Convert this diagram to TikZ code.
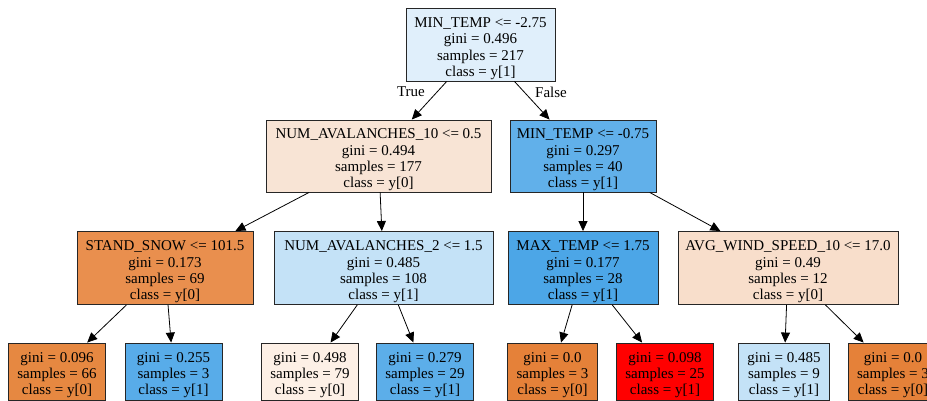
\documentclass[tikz,border=0pt]{standalone}
\usepackage{fontspec}
\setmainfont{Liberation Serif}
\usetikzlibrary{arrows.meta}

\definecolor{rootc}{RGB}{224,239,251}
\definecolor{nbc}{RGB}{248,228,213}
\definecolor{ncc}{RGB}{97,176,234}
\definecolor{ndc}{RGB}{233,143,78}
\definecolor{nec}{RGB}{196,226,247}
\definecolor{nfc}{RGB}{76,166,231}
\definecolor{ngc}{RGB}{248,222,203}
\definecolor{lhc}{RGB}{230,136,65}
\definecolor{lic}{RGB}{88,172,233}
\definecolor{ljc}{RGB}{253,240,230}
\definecolor{lkc}{RGB}{92,174,233}
\definecolor{lzc}{RGB}{229,129,57}
\definecolor{lmc}{RGB}{255,0,0}

\begin{document}
\begin{tikzpicture}[x=1pt,y=-1pt,
	box/.style={draw=black!85, line width=0.9pt, align=center, inner sep=0pt, text height=67pt, font=\fontsize{15}{16.3}\selectfont},
	leaf/.style={box, text height=50pt, minimum width=97pt, minimum height=57pt},
	edge/.style={-{Triangle[length=10pt,width=9pt]}, line width=0.8pt}]
	\clip (0,0) rectangle (927,401);

	\node[box, fill=rootc, minimum width=149pt, minimum height=73pt] at (480.5, 44.5) (a) {MIN\_TEMP <= -2.75\\gini = 0.496\\samples = 217\\class = y[1]};

	\node[box, fill=nbc, minimum width=225pt, minimum height=72pt] at (378.5, 156) (b) {NUM\_AVALANCHES\_10 <= 0.5\\gini = 0.494\\samples = 177\\class = y[0]};
	\node[box, fill=ncc, minimum width=146pt, minimum height=72pt] at (583, 156) (c) {MIN\_TEMP <= -0.75\\gini = 0.297\\samples = 40\\class = y[1]};

	\node[box, fill=ndc, minimum width=176pt, minimum height=73pt] at (165, 268) (d) {STAND\_SNOW <= 101.5\\gini = 0.173\\samples = 69\\class = y[0]};
	\node[box, fill=nec, minimum width=219pt, minimum height=73pt] at (383.5, 268) (e) {NUM\_AVALANCHES\_2 <= 1.5\\gini = 0.485\\samples = 108\\class = y[1]};
	\node[box, fill=nfc, minimum width=150pt, minimum height=73pt] at (583, 268) (f) {MAX\_TEMP <= 1.75\\gini = 0.177\\samples = 28\\class = y[1]};
	\node[box, fill=ngc, minimum width=220pt, minimum height=73pt] at (788, 268) (g) {AVG\_WIND\_SPEED\_10 <= 17.0\\gini = 0.49\\samples = 12\\class = y[0]};

	\node[leaf, fill=lhc] at (57, 371.5) (h) {gini = 0.096\\samples = 66\\class = y[0]};
	\node[leaf, fill=lic] at (173.5, 371.5) (i) {gini = 0.255\\samples = 3\\class = y[1]};
	\node[leaf, fill=ljc] at (310, 371.5) (j) {gini = 0.498\\samples = 79\\class = y[0]};
	\node[leaf, fill=lkc] at (425, 371.5) (k) {gini = 0.279\\samples = 29\\class = y[1]};
	\node[leaf, fill=lzc, minimum width=90pt] at (552.5, 371.5) (l) {gini = 0.0\\samples = 3\\class = y[0]};
	\node[leaf, fill=lmc] at (665, 371.5) (m) {gini = 0.098\\samples = 25\\class = y[1]};
	\node[leaf, fill=nec, minimum width=91pt] at (784, 371.5) (n) {gini = 0.485\\samples = 9\\class = y[1]};
	\node[leaf, fill=lzc, minimum width=90pt] at (893, 371.5) (o) {gini = 0.0\\samples = 3\\class = y[0]};

	\draw[edge] (a) -- (b);
	\draw[edge] (a) -- (c);
	\draw[edge] (b) -- (d);
	\draw[edge] (b) -- (e);
	\draw[edge] (c) -- (f);
	\draw[edge] (c) -- (g);
	\draw[edge] (d) -- (h);
	\draw[edge] (d) -- (i);
	\draw[edge] (e) -- (j);
	\draw[edge] (e) -- (k);
	\draw[edge] (f) -- (l);
	\draw[edge] (f) -- (m);
	\draw[edge] (g) -- (n);
	\draw[edge] (g) -- (o);

	\node[font=\fontsize{15}{16.3}\selectfont] at (411, 92) (t) {True};
	\node[font=\fontsize{15}{16.3}\selectfont] at (551, 92) (u) {False};
\end{tikzpicture}
\end{document}
